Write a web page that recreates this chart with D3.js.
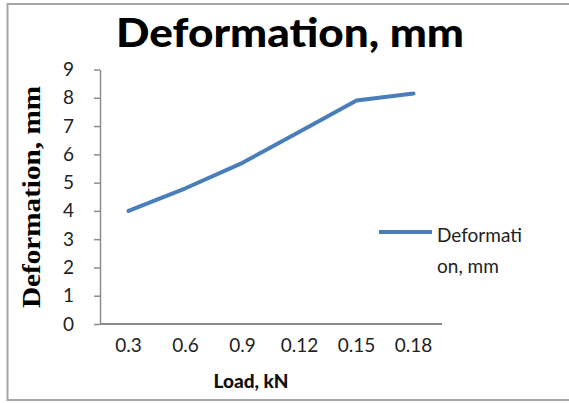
<!DOCTYPE html>
<html><head><meta charset="utf-8">
<script src="https://cdn.jsdelivr.net/npm/d3@7/dist/d3.min.js"></script>
<style>
html,body{margin:0;padding:0;background:#fff;}
svg{display:block;}
</style></head>
<body>
<script>
const categories = ["0.3","0.6","0.9","0.12","0.15","0.18"];
const deformation = [4.0, 4.8, 5.7, 6.8, 7.9, 8.15];
const yTicks = [0,1,2,3,4,5,6,7,8,9];
const seriesName = "Deformation, mm";
const titleText = "Deformation, mm";
const xTitle = "Load, kN";
const yTitle = "Deformation, mm";

const W = 569, H = 403;
const svg = d3.select("body").append("svg").attr("width", W).attr("height", H);
const sans = "Lato, 'Open Sans', sans-serif";

// outer frame
svg.append("rect").attr("x", 7.5).attr("y", 4).attr("width", 570).attr("height", 396)
  .attr("fill", "#fff").attr("stroke", "#a6a6a6").attr("stroke-width", 2);

const plot = {left: 100, right: 442, top: 69.5, bottom: 324};
const x = d3.scaleBand().domain(categories).range([plot.left, plot.right]);
const y = d3.scaleLinear().domain([0, 9]).range([plot.bottom, plot.top]);

// y axis
const yAxis = svg.append("g").attr("transform", `translate(${plot.left},0)`)
  .call(d3.axisLeft(y).tickValues(yTicks).tickSize(6).tickSizeOuter(0).tickPadding(20));
yAxis.select(".domain").attr("stroke", "#8c8c8c").attr("stroke-width", 1.5);
yAxis.selectAll(".tick line").attr("stroke", "#8c8c8c").attr("stroke-width", 1.5);
yAxis.selectAll(".tick text").attr("font-family", sans).attr("font-size", 19).attr("fill", "#222");

// x axis
const xAxis = svg.append("g").attr("transform", `translate(0,${plot.bottom})`)
  .call(d3.axisBottom(x).tickSize(0).tickPadding(15));
xAxis.select(".domain").attr("stroke", "#8c8c8c").attr("stroke-width", 2)
  .attr("d", `M${plot.left},0H${plot.right}`);
xAxis.selectAll(".tick text").attr("font-family", sans).attr("font-size", 19).attr("fill", "#222")
  .attr("dy", "0.71em");

// line
const line = d3.line().x((d, i) => x(categories[i]) + x.bandwidth() / 2).y(d => y(d));
svg.append("path").datum(deformation).attr("d", line)
  .attr("fill", "none").attr("stroke", "#4a7ebb").attr("stroke-width", 4)
  .attr("stroke-linejoin", "round").attr("stroke-linecap", "round");

// title
svg.append("text").attr("x", 290).attr("y", 47).attr("text-anchor", "middle")
  .attr("font-family", sans).attr("font-weight", "900").attr("font-size", 39)
  .attr("textLength", 348).attr("lengthAdjust", "spacingAndGlyphs")
  .attr("fill", "#000").text(titleText);

// x title
svg.append("text").attr("x", 251).attr("y", 388).attr("text-anchor", "middle")
  .attr("font-family", sans).attr("font-weight", "900").attr("font-size", 19)
  .attr("fill", "#111").text(xTitle);

// y title
svg.append("text").attr("transform", "translate(40,197) rotate(-90)").attr("text-anchor", "middle")
  .attr("font-family", "'Liberation Serif', serif").attr("font-weight", "bold").attr("font-size", 26)
  .attr("textLength", 222).attr("lengthAdjust", "spacingAndGlyphs")
  .attr("fill", "#000").text(yTitle);

// legend
svg.append("line").attr("x1", 379).attr("x2", 432).attr("y1", 232).attr("y2", 232)
  .attr("stroke", "#4a7ebb").attr("stroke-width", 4);
const lg = svg.append("text").attr("font-family", sans).attr("font-size", 19).attr("fill", "#222");
lg.append("tspan").attr("x", 437).attr("y", 242).text("Deformati");
lg.append("tspan").attr("x", 437).attr("y", 273).text("on, mm");
</script>
</body></html>
